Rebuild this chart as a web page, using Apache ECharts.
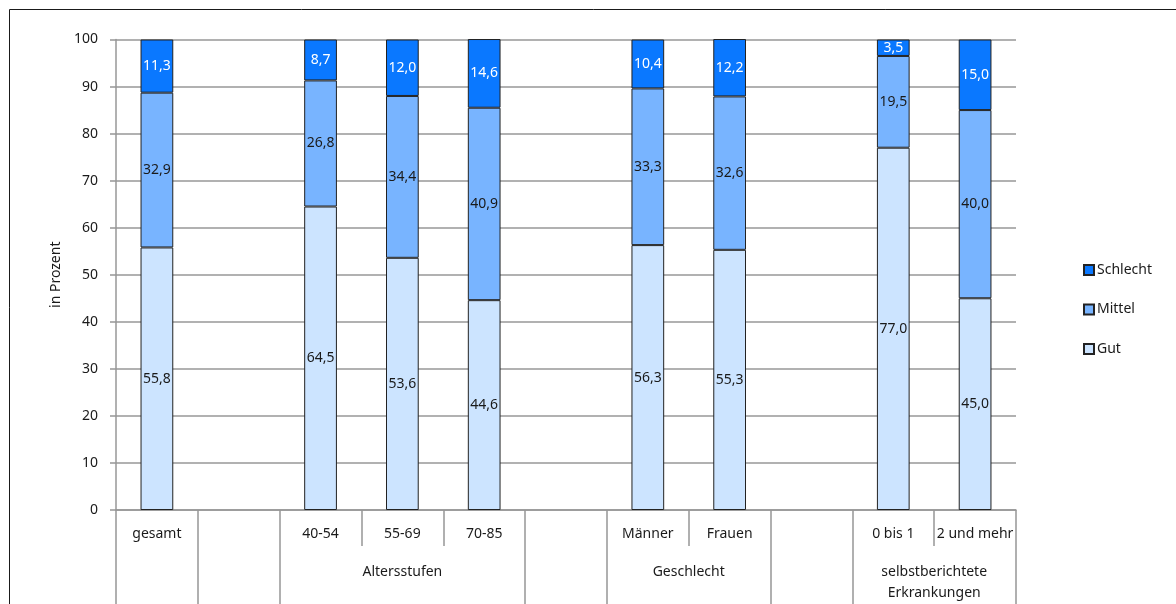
<!DOCTYPE html>
<html>
<head>
<meta charset="utf-8">
<script src="https://cdn.jsdelivr.net/npm/echarts@6/dist/echarts.min.js"></script>
<style>
  html, body { margin: 0; padding: 0; background: #fff; }
  #chart { width: 1176px; height: 604px; }
</style>
</head>
<body>
<div id="chart"></div>
<script>
// Categories along the x axis (empty strings are spacer slots between groups)
const categories = ['gesamt', '', '40-54', '55-69', '70-85', '', 'Männer', 'Frauen', '', '0 bis 1', '2 und mehr'];

// Share of respondents per rating, in percent
const gut      = [55.8, null, 64.5, 53.6, 44.6, null, 56.3, 55.3, null, 77.0, 45.0];
const mittel   = [32.9, null, 26.8, 34.4, 40.9, null, 33.3, 32.6, null, 19.5, 40.0];
const schlecht = [11.3, null,  8.7, 12.0, 14.6, null, 10.4, 12.2, null,  3.5, 15.0];

// Group captions below the category labels, positioned at slot units (0..11)
const groupCenters = [3.5, 7, 10];
const groupNames = ['Altersstufen', 'Geschlecht', 'selbstberichtete\nErkrankungen'];
const groupBounds = [0, 1, 2, 5, 6, 8, 9, 11];

const yTicks = { min: 0, max: 100, interval: 10 };

const FONT = 'Noto Sans';
const FS = 14;
const GRID_GRAY = '#979797';
const fmt = v => (v == null ? '' : v.toFixed(1).replace('.', ','));

const chart = echarts.init(document.getElementById('chart'));

function barSeries(name, data, color, labelColor) {
  return {
    name: name,
    type: 'bar',
    stack: 'total',
    data: data,
    barWidth: '40%',
    xAxisIndex: 0,
    itemStyle: { color: color, borderColor: '#222', borderWidth: 1 },
    label: {
      show: true,
      position: 'inside',
      color: labelColor,
      fontFamily: FONT,
      fontSize: FS,
      formatter: p => fmt(p.value)
    },
    emphasis: { disabled: true }
  };
}

chart.setOption({
  animation: false,
  backgroundColor: '#fff',
  textStyle: { fontFamily: FONT },
  graphic: [{
    type: 'rect',
    shape: { x: 9.5, y: 9.5, width: 1300, height: 700 },
    style: { fill: 'none', stroke: '#1a1a1a', lineWidth: 1 },
    silent: true,
    z: -10
  }],
  grid: { left: 116, right: 160, top: 39.5, bottom: 92.5 },
  legend: {
    orient: 'vertical',
    left: 1083,
    top: 263,
    padding: 0,
    icon: 'rect',
    itemWidth: 10,
    itemHeight: 10,
    itemGap: 25.5,
    data: ['Schlecht', 'Mittel', 'Gut'],
    textStyle: { fontFamily: FONT, fontSize: FS, color: '#1a1a1a', padding: [0, 0, 0, -2] }
  },
  xAxis: [{
    type: 'category',
    data: categories,
    position: 'bottom',
    axisLine: { show: true, lineStyle: { color: GRID_GRAY, width: 1.5 } },
    axisTick: { show: true, interval: 0, length: 36, lineStyle: { color: GRID_GRAY, width: 1.5 } },
    axisLabel: { interval: 0, margin: 17, color: '#1a1a1a', fontFamily: FONT, fontSize: FS },
    splitLine: { show: false }
  }, {
    type: 'value',
    min: 0,
    max: 11,
    position: 'bottom',
    axisLine: { show: false },
    axisTick: { show: true, customValues: groupBounds, length: 95, lineStyle: { color: GRID_GRAY, width: 1.5 } },
    axisLabel: {
      customValues: groupCenters,
      margin: 52,
      color: '#1a1a1a',
      fontFamily: FONT,
      fontSize: FS,
      lineHeight: 21,
      formatter: v => groupNames[groupCenters.indexOf(v)] || ''
    },
    splitLine: { show: false }
  }],
  yAxis: {
    type: 'value',
    min: yTicks.min,
    max: yTicks.max,
    interval: yTicks.interval,
    name: 'in Prozent',
    nameLocation: 'middle',
    nameGap: 51,
    nameTextStyle: { fontFamily: FONT, fontSize: FS, color: '#1a1a1a' },
    axisLine: { show: true, lineStyle: { color: GRID_GRAY, width: 1.5 } },
    axisTick: { show: true, length: 6, lineStyle: { color: GRID_GRAY, width: 1.5 } },
    axisLabel: { margin: 18, color: '#1a1a1a', fontFamily: FONT, fontSize: FS },
    splitLine: { show: true, lineStyle: { color: GRID_GRAY, width: 1.5 } }
  },
  series: [
    barSeries('Gut', gut, '#cce4ff', '#1a1a1a'),
    barSeries('Mittel', mittel, '#78b4ff', '#1a1a1a'),
    barSeries('Schlecht', schlecht, '#0a78ff', '#ffffff')
  ]
});
</script>
</body>
</html>
